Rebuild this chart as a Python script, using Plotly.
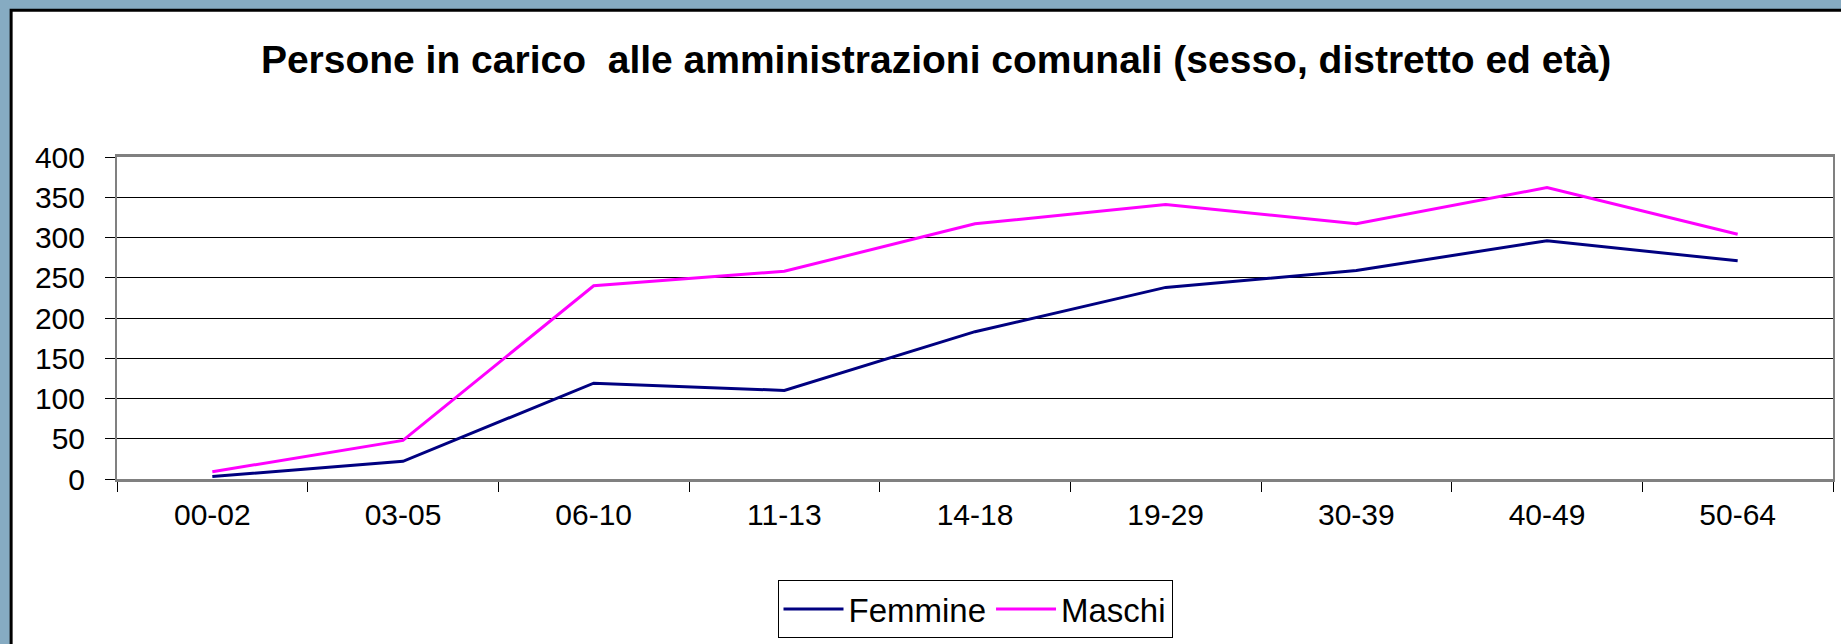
import plotly.graph_objects as go

categories = ["00-02", "03-05", "06-10", "11-13", "14-18", "19-29", "30-39", "40-49", "50-64"]
femmine = [3, 22, 119, 110, 183, 238, 259, 296, 271]
maschi = [9, 48, 240, 258, 317, 341, 317, 362, 304]
y_ticks = [0, 50, 100, 150, 200, 250, 300, 350, 400]

W, H = 1841, 644
L, R, T, B = 117, 6, 157, 162
pw = W - L - R
ph = H - T - B

def px_x(x):
    return (x - L) / pw

def px_y(y):
    return (H - B - y) / ph

FONT = "Liberation Sans, Arial, sans-serif"
BG = "#86abc2"

fig = go.Figure()
fig.add_trace(go.Scatter(x=categories, y=femmine, name="Femmine", mode="lines",
                         line=dict(color="#000080", width=3)))
fig.add_trace(go.Scatter(x=categories, y=maschi, name="Maschi", mode="lines",
                         line=dict(color="#ff00ff", width=3)))

fig.add_shape(type="rect", xref="paper", yref="paper", layer="below",
              x0=px_x(11), x1=px_x(1860), y0=px_y(9), y1=px_y(660),
              fillcolor="white", line=dict(color="black", width=3))

fig.update_layout(
    width=W, height=H,
    margin=dict(l=L, r=R, t=T, b=B),
    paper_bgcolor=BG,
    plot_bgcolor="#c0c0c0",
    font=dict(family=FONT, color="black", size=30),
    title=dict(text="<b>Persone in carico  alle amministrazioni comunali (sesso, distretto ed età)</b>",
               x=936 / W, xanchor="center", xref="container",
               y=1 - 59 / H, yanchor="middle", yref="container",
               font=dict(size=39, family=FONT, color="black")),
    showlegend=True,
    legend=dict(orientation="h", x=0.5, xanchor="center", y=px_y(584), yanchor="top",
                bgcolor="white", bordercolor="black", borderwidth=1,
                itemwidth=60,
                font=dict(size=33, family=FONT, color="black")),
    xaxis=dict(type="category", categoryarray=categories, tickson="boundaries",
               ticks="outside", ticklen=10, tickcolor="black", tickwidth=1,
               showgrid=False, showline=True, linecolor="#808080", linewidth=3,
               mirror=True, range=[-0.5, 8.5], ticklabelstandoff=7,
               tickfont=dict(size=30)),
    yaxis=dict(range=[0, 400], tickvals=y_ticks, ticks="outside", ticklen=10,
               tickcolor="black", tickwidth=1, showgrid=True, gridcolor="black",
               gridwidth=1, showline=True, linecolor="#808080", linewidth=2,
               mirror=True, zeroline=False, ticklabelstandoff=14,
               tickfont=dict(size=30)),
)

fig.write_html("out.html", config={"displayModeBar": False},
               post_script="document.body.style.margin='0';document.body.style.overflow='hidden';document.body.style.background='" + BG + "';")
